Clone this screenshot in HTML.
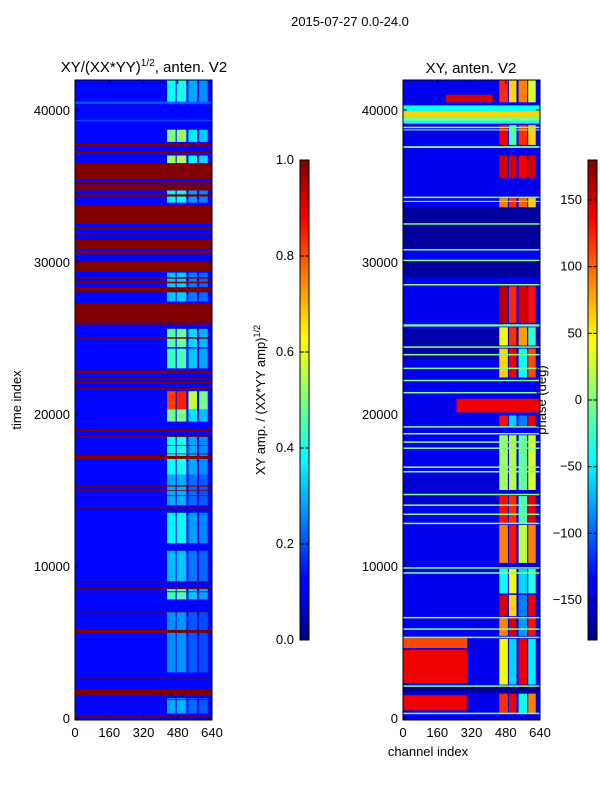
<!DOCTYPE html>
<html><head><meta charset="utf-8"><style>
body{margin:0;background:#fff;font-family:"Liberation Sans","DejaVu Sans",sans-serif}
svg text{font-family:"Liberation Sans","DejaVu Sans",sans-serif;fill:#000}
</style></head><body>
<svg id="fig" width="600" height="800" viewBox="0 0 600 800" xmlns="http://www.w3.org/2000/svg">
<defs>
<linearGradient id="jet" x1="0" y1="1" x2="0" y2="0">
<stop offset="0" stop-color="#00007f"/><stop offset="0.11" stop-color="#0000ff"/><stop offset="0.125" stop-color="#0000ff"/>
<stop offset="0.34" stop-color="#00dcff"/><stop offset="0.375" stop-color="#00ffff"/><stop offset="0.5" stop-color="#80ff80"/>
<stop offset="0.625" stop-color="#ffff00"/><stop offset="0.66" stop-color="#ffe000"/><stop offset="0.875" stop-color="#ff0000"/><stop offset="1" stop-color="#7f0000"/>
</linearGradient>
</defs>
<text x="350" y="26" font-size="13" text-anchor="middle">2015-07-27 0.0-24.0</text>
<text x="144" y="72" font-size="15" text-anchor="middle">XY/(XX*YY)<tspan font-size="10" dy="-6">1/2</tspan><tspan dy="6">, anten. V2</tspan></text>
<text x="471" y="73" font-size="15" text-anchor="middle">XY, anten. V2</text>
<text transform="translate(21,400) rotate(-90)" font-size="13" text-anchor="middle">time index</text>
<text x="428" y="756" font-size="13" text-anchor="middle">channel index</text>
<text transform="translate(265,400) rotate(-90)" font-size="13" text-anchor="middle">XY amp. / (XX*YY amp)<tspan font-size="9" dy="-5">1/2</tspan></text>
<g id="left"></g>
<g id="right"></g>
<text transform="translate(546,400) rotate(-90)" font-size="13" text-anchor="middle">phase (deg)</text>
<g id="axes"></g>
<rect x="300" y="160" width="9" height="480" fill="url(#jet)" stroke="#000" stroke-width="1"/>
<rect x="588" y="160" width="9" height="480" fill="url(#jet)" stroke="#000" stroke-width="1"/>
<g id="cbticks"></g>
</svg>
<script>
// time-index bands (full width) for left panel: [t0, t1, value]
const leftBands=[[37600,37800,1],[37100,37300,1],[35400,36500,1],[35200,35300,1],[34700,35100,1],[34300,34450,1],[32500,33750,1],[32100,32300,1],[31700,31800,1],[30800,31450,1],[30500,30700,1],[29340,30000,1],[28900,29000,1],[28600,28700,1],[28000,28350,1],[26000,27300,1],[25800,25900,1],[24950,25050,1],[22700,22850,1],[22250,22350,1],[22000,22100,1],[21600,21700,1],[18880,18950,1],[18500,18550,1],[17900,17950,1],[17350,17400,1],[17040,17240,1],[15220,15300,1],[14950,15000,1],[14600,14650,1],[13780,13840,1],[8930,8990,1],[8480,8540,1],[8280,8330,1],[6950,7010,1],[5600,5790,1],[2540,2590,1],[1500,1900,1],[1180,1230,1],[80,130,1],[40400,40550,0.22],[39250,39350,0.2]];
// bright channel-region streaks for left panel: [t0, t1, value]
const leftStreaks=[[40500,41970,0.4],[37900,38700,0.52],[36500,37000,0.55],[33900,34900,0.38],[27400,29300,0.33],[24400,25600,0.48],[23000,24300,0.45],[20300,21500,0.85],[19500,20300,0.5],[16000,18500,0.4],[14000,16000,0.3],[11500,13500,0.38],[9000,11000,0.32],[7800,8500,0.45],[3000,7000,0.27],[300,1300,0.3]];
const leftCols=[[430,470],[475,520],[530,570],[580,620]];
const leftColWeight=[0.95,1.0,0.6,0.5];
const leftBg=0.13;
// right panel: green lines (phase ~0 deg)
const rightGreen=[[39300,39500],[38800,38900],[38650,38720],[37500,37620],[34200,34300],[33950,34020],[32450,32550],[30750,30850],[30050,30150],[28450,28550],[25750,25900],[24350,24450],[23850,23950],[22950,23050],[22150,22250],[21350,21450],[19100,19200],[18650,18750],[18100,18200],[17700,17800],[16450,16550],[16150,16250],[14650,14750],[13950,14050],[13350,13450],[12750,12850],[9820,9920],[9490,9590],[5800,5900],[5250,5350],[6550,6650],[2050,2150],[250,350]];
// right panel: wide phase regions [t0, t1, ch0, ch1, deg]
const rightRegions=[[29000,30000,0,640,-170],[30900,33600,0,640,-170],[23600,25600,0,640,-165],[13900,16000,0,640,-150],[40500,41000,200,420,150],[39100,40300,0,640,-40],[39550,39900,0,640,60],[1650,2050,0,640,-175],[4600,5250,0,300,110],[2300,4470,0,300,140],[500,1500,0,300,140],[20100,21000,250,640,140]];
// right bright channel streaks: [t0, t1, deg col1..col4]
const rightStreaks=[[40500,41970,120,60,90,30],[37700,39000,140,-20,120,60],[35500,37000,150,150,140,150],[33600,34200,90,120,100,60],[26000,28400,160,120,150,130],[24500,25700,40,120,80,-30],[22400,24300,60,140,-40,110],[19200,19900,130,-60,-90,140],[15000,18600,10,20,-10,30],[12800,14600,130,120,-20,140],[10200,12700,90,130,20,90],[8200,9800,-40,40,-60,-30],[6700,8100,150,60,-90,140],[5400,6600,90,150,-80,130],[2200,5200,40,-60,140,-50],[300,1600,120,140,-40,90]];
const rightCols=[[450,490],[495,530],[540,580],[585,620]];
const rightBgDeg=-140;
const yTicks=[0,10000,20000,30000,40000];
const xTicks=[0,160,320,480,640];
const ampTicks=[0,0.2,0.4,0.6,0.8,1.0];
const phaseTicks=[-150,-100,-50,0,50,100,150];

const NS='http://www.w3.org/2000/svg';
const PY0=80,PY1=718,TMAX=41970;
function yS(t){return PY1-(t/TMAX)*(PY1-PY0);}
function xS(px,c){return px+c/640*137;}
function jet(v){v=Math.max(0,Math.min(1,v));const f=x=>Math.round(255*Math.max(0,Math.min(1,1.5-Math.abs(4*v-x))));return `rgb(${f(3)},${f(2)},${f(1)})`;}
function ph(d){return jet((d+180)/360);}
function rect(g,x,y,w,h,fill,name){const r=document.createElementNS(NS,'rect');r.setAttribute('x',x);r.setAttribute('y',y);r.setAttribute('width',Math.max(w,0.5));r.setAttribute('height',Math.max(h,0.8));r.setAttribute('fill',fill);


g.appendChild(r);}
function text(g,x,y,s,anchor,name){const t=document.createElementNS(NS,'text');t.setAttribute('x',x);t.setAttribute('y',y);t.setAttribute('font-size','13');t.setAttribute('text-anchor',anchor);t.textContent=s;


g.appendChild(t);}
function line(g,x1,y1,x2,y2,name){const l=document.createElementNS(NS,'line');l.setAttribute('x1',x1);l.setAttribute('y1',y1);l.setAttribute('x2',x2);l.setAttribute('y2',y2);l.setAttribute('stroke','#000');


g.appendChild(l);}

// left panel
const L=document.getElementById('left'),LX=75;
rect(L,LX,PY0,137,PY1-PY0+2,jet(leftBg),'left-background');
leftStreaks.forEach(s=>leftCols.forEach((c,i)=>rect(L,xS(LX,c[0]),yS(s[1]),xS(LX,c[1])-xS(LX,c[0]),yS(s[0])-yS(s[1]),jet(leftBg+(s[2]-leftBg)*leftColWeight[i]),'left-streak')));
leftBands.forEach(b=>rect(L,LX,yS(b[1]),137,yS(b[0])-yS(b[1]),jet(b[2]),'left-band'));
// right panel
const R=document.getElementById('right'),RX=403;
rect(R,RX,PY0,137,PY1-PY0+2,ph(rightBgDeg),'right-background');
rightRegions.forEach(r=>rect(R,xS(RX,r[2]),yS(r[1]),xS(RX,r[3])-xS(RX,r[2]),yS(r[0])-yS(r[1]),ph(r[4]),'right-region'));
rightStreaks.forEach(s=>rightCols.forEach((c,i)=>rect(R,xS(RX,c[0]),yS(s[1]),xS(RX,c[1])-xS(RX,c[0]),yS(s[0])-yS(s[1]),ph(s[2+i]),'right-streak')));
rightGreen.forEach(b=>rect(R,RX,yS(b[1]),137,yS(b[0])-yS(b[1]),ph(0),'right-green-line'));

// axes
const A=document.getElementById('axes');
[LX,RX].forEach((px,k)=>{
  const fr=document.createElementNS(NS,'rect');fr.setAttribute('x',px);fr.setAttribute('y',PY0);fr.setAttribute('width',137);fr.setAttribute('height',PY1-PY0+2);fr.setAttribute('fill','none');fr.setAttribute('stroke','#000');
  
  
  A.appendChild(fr);
  yTicks.forEach(t=>{const y=yS(t);line(A,px,y,px+4,y,'y-tick');line(A,px+133,y,px+137,y,'y-tick');text(A,px-5,y+5,String(t),'end','y-tick-label');});
  xTicks.forEach(c=>{const x=xS(px,c);line(A,x,PY1+2,x,PY1-2,'x-tick');line(A,x,PY0,x,PY0+4,'x-tick');text(A,x,PY1+19,String(c),'middle','x-tick-label');});
});
const C=document.getElementById('cbticks');
ampTicks.forEach(v=>{const y=640-v*480;line(C,300,y,304,y,'colorbar-tick');line(C,305,y,309,y,'colorbar-tick');text(C,294,y+4,v.toFixed(1),'end','colorbar-tick-label');});
phaseTicks.forEach(v=>{const y=160+(180-v)/360*480;line(C,588,y,592,y,'colorbar-tick');line(C,593,y,597,y,'colorbar-tick');text(C,582,y+4,(v<0?'\u2212'+(-v):String(v)),'end','colorbar-tick-label');});
</script>
</body></html>
